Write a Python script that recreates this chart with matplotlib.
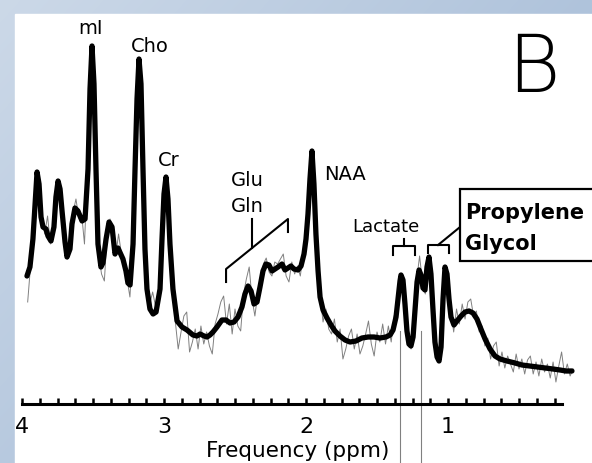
import numpy as np
import matplotlib.pyplot as plt
from matplotlib.patches import Rectangle
from matplotlib.ticker import FixedLocator

# smoothed (fitted) spectrum, ppm vs arbitrary units
fit_ppm = [3.965, 3.944, 3.923, 3.908, 3.894, 3.880, 3.866, 3.852, 3.831, 3.817,
           3.796, 3.775, 3.761, 3.746, 3.732, 3.718, 3.697, 3.683, 3.662, 3.648,
           3.627, 3.606, 3.577, 3.556, 3.535, 3.521, 3.507, 3.493, 3.479, 3.465,
           3.444, 3.430, 3.408, 3.387, 3.366, 3.345, 3.324, 3.289, 3.268, 3.254,
           3.239, 3.218, 3.204, 3.190, 3.176, 3.162, 3.148, 3.134, 3.120, 3.099,
           3.077, 3.056, 3.028, 3.014, 3.000, 2.986, 2.972, 2.958, 2.937, 2.908,
           2.873, 2.838, 2.796, 2.768, 2.746, 2.718, 2.697, 2.676, 2.655, 2.627,
           2.592, 2.563, 2.535, 2.507, 2.479, 2.451, 2.430, 2.408, 2.387, 2.366,
           2.345, 2.324, 2.303, 2.282, 2.261, 2.239, 2.218, 2.197, 2.169, 2.148,
           2.127, 2.106, 2.085, 2.056, 2.035, 2.014, 2.000, 1.986, 1.972, 1.958,
           1.944, 1.930, 1.915, 1.901, 1.880, 1.852, 1.824, 1.796, 1.761, 1.725,
           1.690, 1.648, 1.606, 1.563, 1.521, 1.479, 1.437, 1.408, 1.387, 1.366,
           1.352, 1.338, 1.331, 1.317, 1.303, 1.289, 1.275, 1.261, 1.246, 1.232,
           1.218, 1.204, 1.190, 1.176, 1.162, 1.148, 1.134, 1.120, 1.106, 1.092,
           1.077, 1.063, 1.049, 1.035, 1.021, 1.007, 0.993, 0.979, 0.958, 0.937,
           0.908, 0.880, 0.852, 0.824, 0.796, 0.768, 0.739, 0.704, 0.669, 0.634,
           0.585, 0.528, 0.479, 0.423, 0.373, 0.317, 0.261, 0.211, 0.169, 0.127]
fit_int = [128, 137, 165, 200, 232, 220, 187, 177, 175, 168,
           163, 177, 207, 223, 215, 193, 162, 147, 155, 180,
           196, 193, 183, 185, 235, 315, 358, 320, 235, 160,
           137, 141, 165, 182, 177, 150, 156, 145, 133, 121,
           119, 160, 235, 305, 345, 320, 235, 155, 115, 95,
           90, 92, 115, 165, 210, 227, 205, 160, 115, 83,
           77, 74, 69, 68, 70, 68, 67, 69, 72, 77,
           84, 84, 81, 82, 87, 97, 110, 118, 113, 100,
           102, 117, 133, 140, 139, 133, 135, 137, 140, 134,
           136, 138, 135, 134, 138, 150, 165, 190, 225, 253,
           220, 170, 133, 107, 94, 86, 79, 73, 68, 64,
           62, 63, 66, 67, 67, 66, 67, 69, 74, 87,
           105, 123, 129, 124, 100, 73, 60, 58, 67, 95,
           122, 134, 129, 116, 114, 137, 147, 130, 95, 62,
           47, 43, 57, 105, 137, 130, 105, 87, 79, 83,
           88, 92, 93, 91, 85, 75, 65, 55, 48, 45,
           43, 41, 39, 38, 37, 36, 35, 34, 33, 33]

# raw (noisy) spectrum, sampled every 0.02 ppm from 3.96 down to 0.12
raw_int = [102, 138, 172, 212, 225, 186, 170, 188, 160, 178,
           210, 222, 198, 160, 145, 162, 192, 205, 186, 190,
           160, 230, 318, 345, 240, 150, 130, 123, 170, 185,
           175, 148, 170, 150, 138, 125, 107, 155, 255, 338,
           300, 190, 118, 100, 112, 98, 102, 145, 212, 224,
           170, 118, 82, 55, 72, 88, 92, 52, 62, 75,
           55, 78, 60, 72, 58, 50, 80, 90, 102, 108,
           80, 100, 70, 95, 78, 73, 110, 125, 137, 105,
           88, 110, 125, 140, 146, 132, 128, 142, 140, 145,
           150, 128, 122, 142, 130, 138, 128, 150, 168, 203,
           250, 212, 145, 108, 82, 95, 75, 70, 85, 62,
           75, 45, 55, 68, 75, 55, 70, 50, 58, 70,
           83, 60, 48, 72, 62, 80, 60, 78, 62, 88,
           92, 118, 130, 92, 70, 55, 85, 125, 148, 122,
           110, 145, 128, 85, 48, 44, 82, 138, 120, 95,
           72, 95, 80, 100, 85, 102, 105, 88, 93, 72,
           78, 58, 66, 45, 58, 62, 38, 52, 36, 48,
           40, 32, 50, 35, 45, 30, 44, 48, 30, 42,
           28, 45, 32, 40, 26, 42, 22, 38, 52, 30,
           40, 28, 35]
raw_ppm = np.linspace(3.96, 0.12, len(raw_int))

tick_ppm = [4, 3, 2, 1]
tick_labels = ['4', '3', '2', '1']
marker_ppm = [1.335, 1.190]

W, H = 592, 464
fig = plt.figure(figsize=(W / 100, H / 100), dpi=100)

# blue-grey frame behind a white panel
bg = fig.add_axes([0, 0, 1, 1])
bg.set_axis_off()
yy, xx = np.mgrid[0:H, 0:W]
t = np.clip((xx / W) * 0.7 + (yy / H) * 0.5, 0, 1)[..., None]
c0 = np.array([0.80, 0.85, 0.91])
c1 = np.array([0.64, 0.73, 0.84])
bg.imshow(c0 * (1 - t) + c1 * t, extent=[0, W, H, 0], aspect='auto')
bg.add_patch(Rectangle((15, 15), W - 15, H - 15, color='white'))
bg.set_xlim(0, W)
bg.set_ylim(H, 0)

ax = fig.add_axes([22 / W, 59 / H, 553.8 / W, 390 / H])
ax.patch.set_alpha(0)
ax.plot(raw_ppm, raw_int, color='#808080', lw=0.7, zorder=2)
ax.plot(fit_ppm, fit_int, color='black', lw=3.8, solid_joinstyle='round',
        solid_capstyle='round', zorder=3)
ax.set_xlim(4.0, 0.1)
ax.set_ylim(0, 390)

for s in ['top', 'left', 'right']:
    ax.spines[s].set_visible(False)
ax.spines['bottom'].set_linewidth(2.2)
ax.spines['bottom'].set_bounds(4.0, 0.2)
ax.set_yticks([])
ax.xaxis.set_major_locator(FixedLocator(tick_ppm))
ax.xaxis.set_minor_locator(FixedLocator(np.arange(0.25, 4.0, 0.125)))
ax.set_xticklabels(tick_labels)
ax.tick_params(which='both', direction='in', length=4, width=1.8,
               labelsize=16, pad=9)
ax.set_xlabel('Frequency (ppm)', fontsize=15.5)
ax.xaxis.set_label_coords(0.498, -0.092)

# reference lines for lactate / propylene glycol
for p in marker_ppm:
    ax.plot([p, p], [73, -60], color='#808080', lw=0.8, clip_on=False)

lab = dict(fontsize=14, ha='center', va='center', clip_on=False)
ax.text(3.52, 377, 'mI', **lab)
ax.text(3.10, 358, 'Cho', **lab)
ax.text(2.965, 245, 'Cr', **lab)
ax.text(2.41, 225, 'Glu', **lab)
ax.text(2.41, 198, 'Gln', **lab)
ax.text(1.725, 230, 'NAA', **lab)
ax.text(1.437, 178, 'Lactate', fontsize=13, ha='center', va='center')
ax.text(0.40, 335, 'B', fontsize=58, fontweight=200, ha='center', va='center')

# Glu/Gln bracket
blk = dict(color='black', lw=1.5, clip_on=False)
ax.plot([2.563, 2.563, 2.127, 2.127], [122, 135, 185, 172], **blk)
ax.plot([2.380, 2.380], [156, 185], **blk)

# lactate bracket
ax.plot([1.387, 1.387, 1.232, 1.232], [149, 158, 158, 149], **blk)
ax.plot([1.310, 1.310], [158, 165], **blk)

# propylene glycol bracket and leader
ax.plot([1.141, 1.141, 0.993, 0.993], [151, 159, 159, 151], **blk)
ax.plot([1.070, 0.915], [159, 177], **blk)
ax.add_patch(Rectangle((0.915, 143), -1.2, 72, fill=True, facecolor='white',
                       edgecolor='black', lw=1.6, clip_on=False, zorder=4))
ax.text(0.88, 186, 'Propylene', fontsize=15, fontweight='bold', ha='left',
        va='baseline', zorder=5, clip_on=False)
ax.text(0.88, 155, 'Glycol', fontsize=15, fontweight='bold', ha='left',
        va='baseline', zorder=5, clip_on=False)

fig.savefig('out.png', dpi=100)
